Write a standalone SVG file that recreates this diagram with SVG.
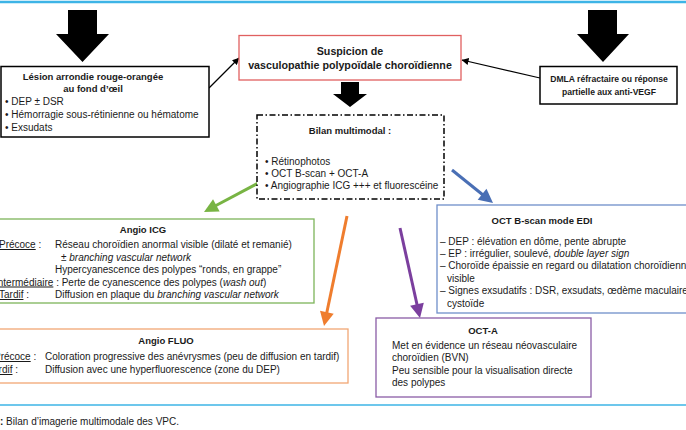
<svg xmlns="http://www.w3.org/2000/svg" width="686" height="430" viewBox="0 0 686 430">
<defs>
<style>
text{font-family:"Liberation Sans",Arial,sans-serif;font-size:10px;fill:#1a1a1a}
.b{font-weight:bold}
.t{font-weight:bold;font-size:9.5px}
.s{font-weight:bold;font-size:10.7px}
.d{font-weight:bold;font-size:8.6px}
.u{text-decoration:underline}
.i{font-style:italic}
.box{fill:#fff}
.blk{fill:#000}
.thin{stroke:#000;stroke-width:1.2;fill:none}
</style>
<marker id="ah" viewBox="0 0 8 8" refX="7.5" refY="4" markerWidth="7" markerHeight="7" markerUnits="userSpaceOnUse" orient="auto">
<path d="M0,0 L8,4 L0,8 z" fill="#000"/>
</marker>
</defs>
<rect width="686" height="430" fill="#fff"/>
<line x1="0" y1="2" x2="686" y2="2" stroke="#3db4e6" stroke-width="2.5"/>
<line x1="0" y1="405" x2="686" y2="405" stroke="#3db4e6" stroke-width="1.5"/>

<g id="connectors">
<polygon class="blk" points="68,10 97,10 97,34 109,34 82.5,62 56,34 68,34"/>
<polygon class="blk" points="588,10 617,10 617,34 629,34 603,62 577,34 588,34"/>
<polygon class="blk" points="341,82 359,82 359,94 367,94 350,107 333,94 341,94"/>
<line class="thin" x1="209" y1="88" x2="239" y2="58" marker-end="url(#ah)"/>
<line class="thin" x1="540" y1="78" x2="462" y2="60" marker-end="url(#ah)"/>
<line x1="279" y1="172" x2="214.6" y2="206.3" stroke="#78b444" stroke-width="3"/>
<polygon points="204,212 219.65,211.58 213.05,199.24" fill="#78b444"/>
<line x1="452" y1="170" x2="483.65" y2="195.48" stroke="#4a6fb5" stroke-width="3"/>
<polygon points="493,203 486.48,188.77 477.70,199.67" fill="#4a6fb5"/>
<line x1="347" y1="216" x2="326.46" y2="314.26" stroke="#ef7d2e" stroke-width="3"/>
<polygon points="324,326 333.71,313.73 320.01,310.87" fill="#ef7d2e"/>
<line x1="400" y1="228" x2="417.4" y2="306.29" stroke="#7b3f9e" stroke-width="3"/>
<polygon points="420,318 423.79,302.81 410.13,305.85" fill="#7b3f9e"/>
</g>

<g id="suspicion">
<rect class="box" x="239" y="35.5" width="222" height="44.5" stroke="#e06060" stroke-width="1.3"/>
<text class="s" x="350" y="55" text-anchor="middle">Suspicion de</text>
<text class="s" x="350" y="69" text-anchor="middle">vasculopathie polypoïdale choroïdienne</text>
</g>

<g id="lesion">
<rect class="box" x="1" y="66.5" width="208" height="70.5" stroke="#000" stroke-width="1.5"/>
<text class="t" x="93" y="80" text-anchor="middle">Lésion arrondie rouge-orangée</text>
<text class="t" x="93" y="92" text-anchor="middle">au fond d’œil</text>
<text x="5" y="105">• DEP ± DSR</text>
<text x="5" y="118">• Hémorragie sous-rétinienne ou hématome</text>
<text x="5" y="130.5">• Exsudats</text>
</g>

<g id="dmla">
<rect class="box" x="540" y="66.5" width="137" height="37.5" stroke="#000" stroke-width="1.5"/>
<text class="d" x="609" y="82" text-anchor="middle">DMLA réfractaire ou réponse</text>
<text class="d" x="609" y="95" text-anchor="middle">partielle aux anti-VEGF</text>
</g>

<g id="bilan">
<rect class="box" x="257" y="115" width="187" height="84" stroke="#000" stroke-width="1.5" stroke-dasharray="6 2.5 1.5 2.5"/>
<text class="t" x="350" y="133.5" text-anchor="middle">Bilan multimodal :</text>
<text x="265" y="164.5">• Rétinophotos</text>
<text x="265" y="176.5">• OCT B-scan + OCT-A</text>
<text x="265" y="188.5">• Angiographie ICG +++ et fluorescéine</text>
</g>

<g id="angio-icg">
<rect class="box" x="-2" y="219" width="316" height="84" stroke="#7db45a" stroke-width="1.3"/>
<text class="t" x="143" y="233" text-anchor="middle">Angio ICG</text>
<text x="-1" y="248"><tspan class="u">Précoce</tspan> :</text>
<text x="55" y="248">Réseau choroïdien anormal visible (dilaté et remanié)</text>
<text x="61" y="260.5" class="i">± branching vascular network</text>
<text x="55" y="273">Hypercyanescence des polypes “ronds, en grappe”</text>
<text x="-5" y="285.5"><tspan class="u">Intermédiaire</tspan> :  Perte de cyanescence des polypes (<tspan class="i">wash out</tspan>)</text>
<text x="-1" y="298"><tspan class="u">Tardif</tspan> :</text>
<text x="55" y="298">Diffusion en plaque du <tspan class="i">branching vascular network</tspan></text>
</g>

<g id="angio-fluo">
<rect class="box" x="-2" y="329" width="350" height="54" stroke="#f2a774" stroke-width="1.3"/>
<text class="t" x="166" y="344" text-anchor="middle">Angio FLUO</text>
<text x="-6" y="360"><tspan class="u">Précoce</tspan> :</text>
<text x="45" y="360">Coloration progressive des anévrysmes (peu de diffusion en tardif)</text>
<text x="-12" y="373"><tspan class="u">Tardif</tspan> :</text>
<text x="45" y="373">Diffusion avec une hyperfluorescence (zone du DEP)</text>
</g>

<g id="oct-b">
<rect class="box" x="437" y="205" width="255" height="108" stroke="#6f8fca" stroke-width="1.3"/>
<text class="t" x="542" y="224" text-anchor="middle">OCT B-scan mode EDI</text>
<text x="440" y="244.5">– DEP : élévation en dôme, pente abrupte</text>
<text x="440" y="256.9">– EP : irrégulier, soulevé, <tspan class="i">double layer sign</tspan></text>
<text x="440" y="269.3">– Choroïde épaissie en regard ou dilatation choroïdienne</text>
<text x="447" y="281.7">visible</text>
<text x="440" y="294.1">– Signes exsudatifs : DSR, exsudats, œdème maculaire</text>
<text x="447" y="306.5">cystoïde</text>
</g>

<g id="oct-a">
<rect class="box" x="376" y="318" width="215" height="79" stroke="#8a5ca6" stroke-width="1.3"/>
<text class="t" x="483" y="334" text-anchor="middle">OCT-A</text>
<text x="392" y="348.5">Met en évidence un réseau néovasculaire</text>
<text x="392" y="361">choroïdien (BVN)</text>
<text x="392" y="373.5">Peu sensible pour la visualisation directe</text>
<text x="392" y="386">des polypes</text>
</g>

<text x="0" y="425"><tspan class="b">:</tspan> Bilan d’imagerie multimodale des VPC.</text>
</svg>
